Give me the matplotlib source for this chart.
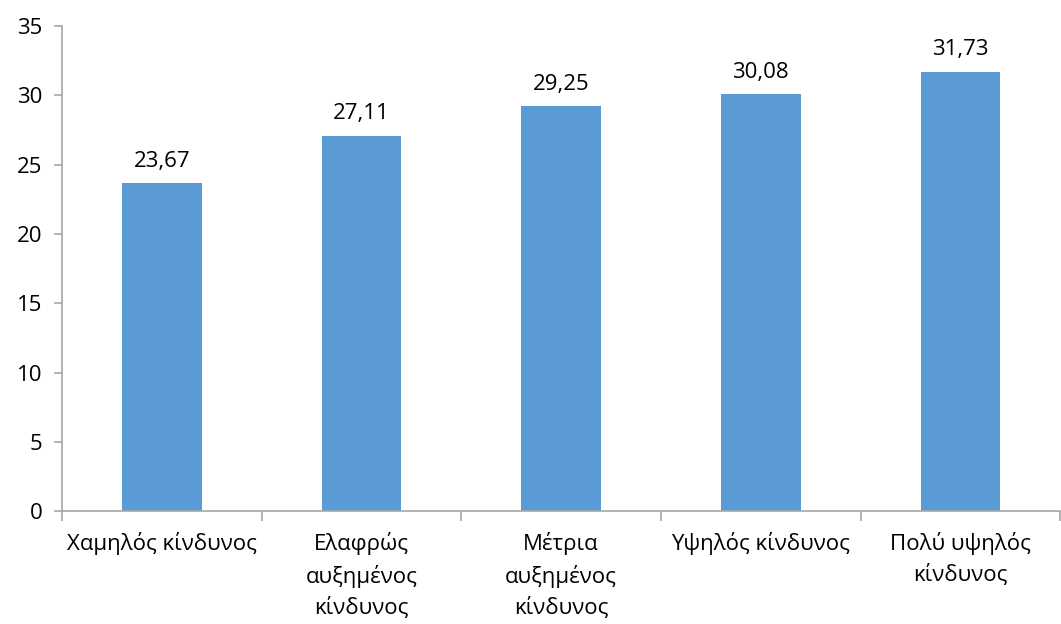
import numpy as np
import matplotlib.pyplot as plt

categories = ["Χαμηλός κίνδυνος", "Ελαφρώς\nαυξημένος\nκίνδυνος", "Μέτρια\nαυξημένος\nκίνδυνος",
              "Υψηλός κίνδυνος", "Πολύ υψηλός\nκίνδυνος"]
values = [23.67, 27.11, 29.25, 30.08, 31.73]
yticks = [0, 5, 10, 15, 20, 25, 30, 35]

plt.rcParams['font.family'] = ['Open Sans', 'DejaVu Sans']
axis_color = '#A6A6A6'
fs = 16

fig = plt.figure(figsize=(10.61, 6.24), dpi=100)
ax = fig.add_axes([0.0584, 0.181, 0.941, 0.777])

x = np.arange(len(categories))
ax.bar(x, values, width=0.4, color='#5B9BD5')

for xi, v in zip(x, values):
    ax.annotate(f"{v:.2f}".replace('.', ','), (xi, v), xytext=(0, 8), textcoords='offset points',
                ha='center', va='bottom', fontsize=fs)

ax.set_xlim(-0.5, len(categories) - 0.5)
ax.set_ylim(0, 35)
ax.set_yticks(yticks)
ax.tick_params(axis='y', labelsize=fs, length=6, color=axis_color, width=1.2, pad=8)

# category labels centred, tick marks on the boundaries between categories
ax.set_xticks(x)
ax.set_xticklabels(categories, fontsize=fs, linespacing=1.55, va='top')
ax.tick_params(axis='x', which='major', length=0, pad=15)
ax.set_xticks(np.arange(-0.5, len(categories), 1.0), minor=True)
ax.tick_params(axis='x', which='minor', length=7, color=axis_color, width=1.2)

for side in ['top', 'right']:
    ax.spines[side].set_visible(False)
for side in ['left', 'bottom']:
    ax.spines[side].set_color(axis_color)
    ax.spines[side].set_linewidth(1.2)

fig.savefig('out.png', dpi=100)
